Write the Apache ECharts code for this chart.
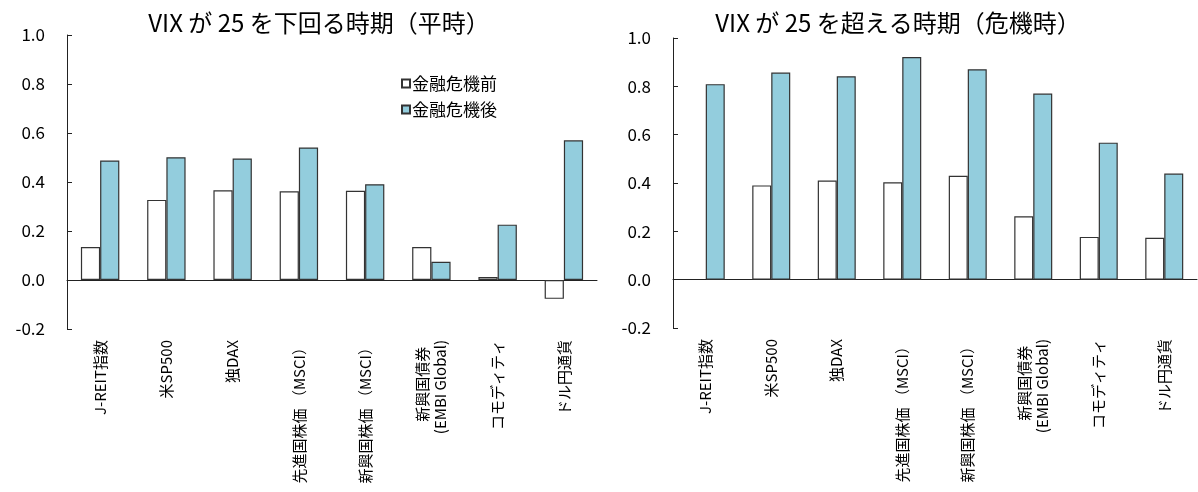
<!DOCTYPE html>
<html>
<head>
<meta charset="utf-8">
<script src="https://cdn.jsdelivr.net/npm/echarts@6/dist/echarts.min.js"></script>
<style>
  html, body { margin: 0; padding: 0; background: #fff; }
  #chart { width: 1198px; height: 492px; }
</style>
</head>
<body>
<div id="chart"></div>
<script>
// カテゴリ（両パネル共通）
const categories = ['J-REIT指数', '米SP500', '独DAX', '先進国株価 （MSCI）', '新興国株価 （MSCI）', '新興国債券  \n(EMBI Global)', 'コモディティ', 'ドル円通貨'];
const seriesNames = ['金融危機前', '金融危機後'];
// VIX < 25（平時）
const calmBefore = [0.135, 0.327, 0.366, 0.362, 0.364, 0.135, 0.012, -0.077];
const calmAfter = [0.488, 0.501, 0.496, 0.541, 0.391, 0.074, 0.226, 0.570];
// VIX > 25（危機時）
const crisisBefore = ['-', 0.390, 0.410, 0.403, 0.430, 0.262, 0.177, 0.173];
const crisisAfter = [0.809, 0.857, 0.842, 0.921, 0.871, 0.770, 0.567, 0.439];
const yMin = -0.2, yMax = 1.0, yStep = 0.2;
const titles = ['VIX が 25 を下回る時期（平時）', 'VIX が 25 を超える時期（危機時）'];

const font = '"Noto Sans CJK JP", "Noto Sans", sans-serif';
const lineColor = '#222';

function xAxis(gridIndex) {
    return {
        type: 'category',
        gridIndex: gridIndex,
        data: categories,
        axisLine: { onZero: true, lineStyle: { color: lineColor, width: 1 } },
        axisTick: { inside: true, length: 5, lineStyle: { color: lineColor } },
        axisLabel: {
            rotate: 90,
            interval: 0,
            margin: 11,
            color: '#000',
            fontFamily: font,
            fontSize: 15,
            lineHeight: 18
        }
    };
}

function yAxis(gridIndex) {
    return {
        type: 'value',
        gridIndex: gridIndex,
        min: yMin,
        max: yMax,
        interval: yStep,
        splitLine: { show: false },
        axisLine: { show: true, lineStyle: { color: lineColor, width: 1 } },
        axisTick: { show: true, inside: true, length: 5, lineStyle: { color: lineColor } },
        axisLabel: {
            margin: 22,
            color: '#000',
            fontFamily: font,
            fontSize: 17,
            formatter: v => v.toFixed(1)
        }
    };
}

function barSeries(name, data, idx, fill) {
    return {
        name: name,
        type: 'bar',
        xAxisIndex: idx,
        yAxisIndex: idx,
        data: data,
        barGap: '0%',
        barCategoryGap: '42%',
        itemStyle: { color: fill, borderColor: '#333', borderWidth: 1.2 },
        emphasis: { disabled: true }
    };
}

const chart = echarts.init(document.getElementById('chart'));
chart.setOption({
    animation: false,
    backgroundColor: '#fff',
    textStyle: { fontFamily: font },
    title: [
        { text: titles[0], left: 314, top: 6, textAlign: 'center', textStyle: { fontFamily: font, fontSize: 24, fontWeight: 'normal', color: '#000' } },
        { text: titles[1], left: 893, top: 6, textAlign: 'center', textStyle: { fontFamily: font, fontSize: 24, fontWeight: 'normal', color: '#000' } }
    ],
    legend: {
        data: seriesNames,
        orient: 'vertical',
        left: 396,
        top: 70,
        itemWidth: 8,
        itemHeight: 8,
        itemGap: 9,
        icon: 'rect',
        textStyle: { fontFamily: font, fontSize: 17, color: '#000', padding: [0, 0, 0, -3] }
    },
    grid: [
        { left: 67, top: 35, width: 530, height: 294, outerBoundsMode: 'none' },
        { left: 673, top: 38, width: 524, height: 290, outerBoundsMode: 'none' }
    ],
    xAxis: [xAxis(0), xAxis(1)],
    yAxis: [yAxis(0), yAxis(1)],
    series: [
        barSeries(seriesNames[0], calmBefore, 0, '#fff'),
        barSeries(seriesNames[1], calmAfter, 0, '#93CDDD'),
        barSeries(seriesNames[0], crisisBefore, 1, '#fff'),
        barSeries(seriesNames[1], crisisAfter, 1, '#93CDDD')
    ]
});
</script>
</body>
</html>
